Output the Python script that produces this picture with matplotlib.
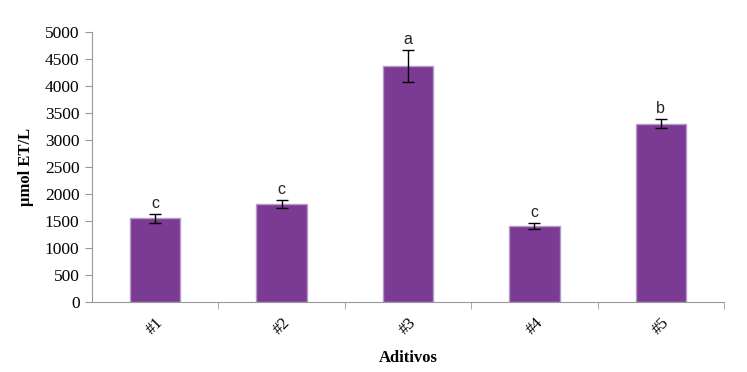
import matplotlib
matplotlib.use('Agg')
import matplotlib.pyplot as plt
import numpy as np

### data ###
categories = ['#1', '#2', '#3', '#4', '#5']
values = [1550, 1810, 4375, 1410, 3305]
errors = [85, 75, 295, 60, 90]
letters = ['c', 'c', 'a', 'c', 'b']

fig = plt.figure(figsize=(7.47, 3.72), dpi=100)
ax = fig.add_axes([92/747, 1-302/372, (724-92)/747, 270/372])

x = np.arange(len(categories))
ax.bar(x, values, width=0.4, color='#7B3A93', edgecolor='#B89AC8', linewidth=1, zorder=2)
ax.errorbar(x, values, yerr=errors, fmt='none', ecolor='black', elinewidth=1,
            capsize=4, capthick=1, zorder=3)

for xi, v, e, l in zip(x, values, errors, letters):
    ax.annotate(l, (xi, v + e), xytext=(0, 2), textcoords='offset points',
                ha='center', va='bottom', fontsize=11.5, family='Liberation Sans',
                color='#222222')

ax.set_xlim(-0.5, len(categories) - 0.5)
ax.set_ylim(0, 5000)
ax.set_yticks(np.arange(0, 5001, 500))

ax.set_xticks(x)
ax.set_xticklabels(categories, rotation=45, family='Liberation Serif', fontsize=12)
ax.set_xticks(np.arange(0.5, len(categories), 1), minor=True)
ax.tick_params(axis='x', which='major', length=0, pad=9)
ax.tick_params(axis='x', which='minor', length=5, color='#999999', direction='out')
ax.tick_params(axis='y', length=5, color='#999999', direction='out', pad=4)
for t in ax.get_yticklabels():
    t.set_family('Liberation Serif')
    t.set_fontsize(12.5)

for s in ['top', 'right']:
    ax.spines[s].set_visible(False)
for s in ['left', 'bottom']:
    ax.spines[s].set_color('#999999')

ax.set_ylabel('μmol ET/L', family='Liberation Serif', fontweight='bold', fontsize=12, labelpad=8)
ax.set_xlabel('Aditivos', family='Liberation Serif', fontweight='bold', fontsize=12, labelpad=9)

plt.savefig('out.png', dpi=100)
